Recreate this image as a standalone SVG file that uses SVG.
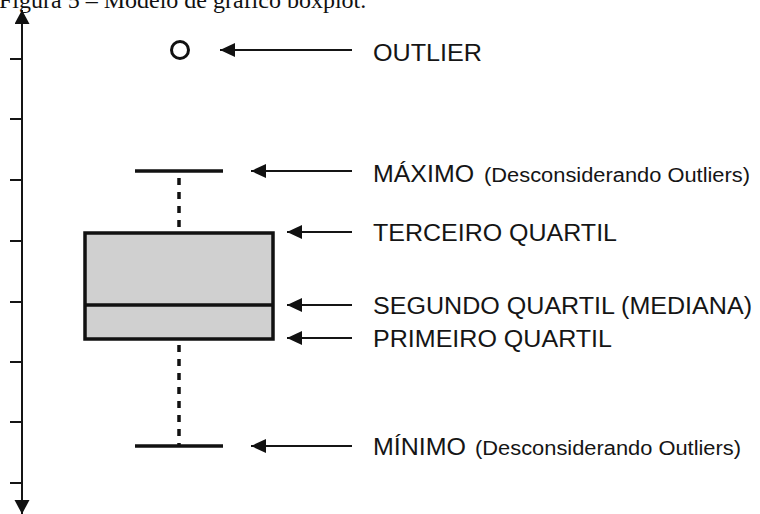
<svg xmlns="http://www.w3.org/2000/svg" width="760" height="514" viewBox="0 0 760 514">
<style>
.cap{font-family:"Liberation Serif","Times New Roman",serif;font-size:24px;fill:#111}
.lbl{font-family:"Liberation Sans",Arial,sans-serif;font-size:23.5px;fill:#151515}
.sub{font-family:"Liberation Sans",Arial,sans-serif;font-size:20px;fill:#151515}
.ptr{stroke:#151515;stroke-width:2;fill:none;marker-end:url(#ah)}
.tick{stroke:#151515;stroke-width:2}
.wh{stroke:#111;stroke-width:3.5}
.dot{stroke:#111;stroke-width:3.5;stroke-dasharray:7 7}
</style>
<defs>
<marker id="ah" markerWidth="16" markerHeight="14" refX="15" refY="7" orient="auto" markerUnits="userSpaceOnUse">
<path d="M0,0 L15,7 L0,14 Z" fill="#111"/>
</marker>
<marker id="axh" markerWidth="16" markerHeight="16" refX="14" refY="7.5" orient="auto" markerUnits="userSpaceOnUse">
<path d="M0,0 L14,7.5 L0,15 Z" fill="#111"/>
</marker>
</defs>
<rect width="760" height="514" fill="#fff"/>
<text class="cap" x="-1" y="8">Figura 5 – Modelo de gráfico boxplot.</text>

<g id="axis">
<line x1="22" y1="260" x2="22" y2="10" stroke="#151515" stroke-width="2" marker-end="url(#axh)"/>
<line x1="22" y1="260" x2="22" y2="514" stroke="#151515" stroke-width="2" marker-end="url(#axh)"/>
<line class="tick" x1="10" y1="59" x2="22" y2="59"/>
<line class="tick" x1="10" y1="119" x2="22" y2="119"/>
<line class="tick" x1="10" y1="180" x2="22" y2="180"/>
<line class="tick" x1="10" y1="241" x2="22" y2="241"/>
<line class="tick" x1="10" y1="302" x2="22" y2="302"/>
<line class="tick" x1="10" y1="362" x2="22" y2="362"/>
<line class="tick" x1="10" y1="422" x2="22" y2="422"/>
<line class="tick" x1="10" y1="483" x2="22" y2="483"/>
</g>

<g id="boxplot">
<circle cx="180" cy="50" r="8.5" fill="none" stroke="#111" stroke-width="3"/>
<line class="wh" x1="135" y1="171" x2="223" y2="171"/>
<line class="dot" x1="179" y1="178" x2="179" y2="232"/>
<rect x="85" y="233" width="188" height="106" fill="#d0d0d0" stroke="#111" stroke-width="3.5"/>
<line class="wh" x1="85" y1="305" x2="273" y2="305" stroke-width="3"/>
<line class="dot" x1="179" y1="345" x2="179" y2="445"/>
<line class="wh" x1="135" y1="446" x2="223" y2="446"/>
</g>

<g id="connectors">
<line class="ptr" x1="352" y1="50" x2="220" y2="50"/>
<line class="ptr" x1="352" y1="171" x2="251" y2="171"/>
<line class="ptr" x1="352" y1="232" x2="287" y2="232"/>
<line class="ptr" x1="352" y1="305" x2="287" y2="305"/>
<line class="ptr" x1="352" y1="338" x2="287" y2="338"/>
<line class="ptr" x1="352" y1="446" x2="251" y2="446"/>
</g>

<g id="outlier"><text class="lbl" x="373" y="61" textLength="109" lengthAdjust="spacingAndGlyphs">OUTLIER</text></g>
<g id="maximo"><text class="lbl" x="373" y="182" textLength="101" lengthAdjust="spacingAndGlyphs">MÁXIMO</text><text class="sub" x="484" y="182" textLength="266" lengthAdjust="spacingAndGlyphs">(Desconsiderando Outliers)</text></g>
<g id="q3"><text class="lbl" x="373" y="241" textLength="244" lengthAdjust="spacingAndGlyphs">TERCEIRO QUARTIL</text></g>
<g id="q2"><text class="lbl" x="373" y="314" textLength="379" lengthAdjust="spacingAndGlyphs">SEGUNDO QUARTIL (MEDIANA)</text></g>
<g id="q1"><text class="lbl" x="373" y="347" textLength="239" lengthAdjust="spacingAndGlyphs">PRIMEIRO QUARTIL</text></g>
<g id="minimo"><text class="lbl" x="373" y="455" textLength="93" lengthAdjust="spacingAndGlyphs">MÍNIMO</text><text class="sub" x="475" y="455" textLength="266" lengthAdjust="spacingAndGlyphs">(Desconsiderando Outliers)</text></g>
</svg>
